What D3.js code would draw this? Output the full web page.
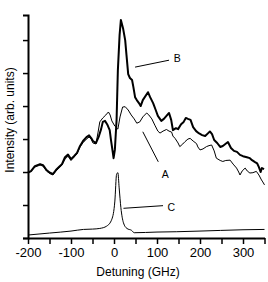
<!DOCTYPE html>
<html>
<head>
<meta charset="utf-8">
<script src="https://cdn.jsdelivr.net/npm/d3@7"></script>
<style>
  html, body { margin: 0; padding: 0; background: #fff; }
  svg { display: block; font-family: Arial, "Liberation Sans", sans-serif; }
</style>
</head>
<body>
<div class="grafic"></div>
<script>
// Detuning (GHz) / intensity

// curve B (thick)
const bX = [-200, -193, -184, -172, -165, -157, -149, -142, -135, -128, -121, -114, -107, -100, -93, -86, -79, -72, -64, -58,
  -53, -49, -42, -35, -30, -26, -21, -16, -10, -7, -3, -1, 2, 6, 9, 13, 16, 21, 26, 29,
  33, 37, 42, 45, 49, 53, 58, 62, 67, 79, 84, 91, 97, 102, 110, 116, 122, 128, 133, 137,
  144, 149, 156, 162, 167, 172, 178, 184, 191, 198, 205, 212, 219, 223, 228, 233, 240, 247, 253, 259,
  265, 272, 279, 286, 293, 300, 309, 316, 321, 328, 333, 337, 341, 344, 349];
const bY = [1.98, 2.03, 2.18, 2.24, 2.21, 2.06, 1.98, 1.94, 2.06, 2.15, 2.24, 2.45, 2.53, 2.39, 2.48, 2.58, 2.79, 2.94, 3.06, 3.11,
  3.03, 2.94, 2.88, 3.09, 3.30, 3.52, 3.55, 3.45, 3.27, 2.97, 2.61, 2.42, 2.67, 3.58, 5.09, 6.15, 6.61, 6.36, 6.00, 5.55,
  4.97, 4.85, 4.79, 4.58, 4.27, 4.18, 4.09, 4.00, 4.18, 4.42, 4.27, 4.09, 3.88, 3.70, 3.55, 3.61, 3.70, 3.79, 3.58, 3.27,
  3.33, 3.30, 3.45, 3.52, 3.64, 3.61, 3.58, 3.36, 3.24, 3.17, 3.12, 3.09, 3.18, 3.23, 3.15, 2.97, 2.88, 2.76, 2.79, 2.85,
  2.91, 2.73, 2.64, 2.61, 2.52, 2.48, 2.45, 2.42, 2.36, 2.30, 2.26, 2.15, 2.00, 2.12, 2.09];

// curve A (thin)
const aX = [-200, -193, -184, -172, -165, -157, -149, -142, -135, -128, -121, -114, -107, -100, -93, -86, -79, -72, -64, -58,
  -53, -49, -42, -37, -33, -26, -19, -13, -9, -5, 2, 9, 14, 20, 26, 33, 40, 47, 53, 60,
  67, 76, 81, 88, 95, 102, 107, 114, 122, 128, 134, 137, 142, 149, 153, 160, 165, 172, 177, 184,
  192, 195, 200, 207, 215, 221, 227, 233, 238, 247, 253, 260, 270, 277, 285, 290, 293, 298, 305, 310,
  316, 323, 331, 337, 343, 346, 350];
const aY = [1.97, 2.02, 2.15, 2.21, 2.18, 2.03, 1.95, 1.91, 2.03, 2.12, 2.21, 2.39, 2.48, 2.35, 2.45, 2.55, 2.76, 2.89, 3.00, 3.06,
  3.00, 2.88, 2.85, 3.21, 3.52, 3.64, 3.73, 3.82, 3.73, 3.55, 3.39, 3.30, 3.67, 3.97, 3.98, 3.88, 3.73, 3.61, 3.48, 3.52,
  3.67, 3.79, 3.73, 3.61, 3.42, 3.24, 3.18, 3.24, 3.29, 3.24, 3.21, 3.09, 3.02, 2.88, 2.77, 2.85, 2.92, 3.00, 3.02, 2.94,
  2.86, 2.76, 2.67, 2.70, 2.77, 2.80, 2.82, 2.64, 2.42, 2.35, 2.32, 2.35, 2.36, 2.24, 2.12, 2.00, 1.91, 2.03, 2.12, 2.03,
  1.97, 1.98, 2.02, 1.91, 1.76, 1.70, 1.61];

// curve C (reference line)
const cX = [-200, -150, -100, -71, -50, -33, -17, -5, 2, 6, 9, 12, 16, 22, 30, 41, 47, 100, 146, 200, 248, 300, 350];
const cY = [0.09, 0.15, 0.21, 0.26, 0.27, 0.29, 0.36, 0.57, 1.12, 1.93, 1.98, 1.52, 0.92, 0.46, 0.29, 0.23, 0.16, 0.18, 0.19, 0.21, 0.23, 0.25, 0.26];

const xTicks = [-200, -150, -100, -50, 0, 50, 100, 150, 200, 250, 300, 350];
const xTickLabels = ["-200", "", "-100", "", "0", "", "100", "", "200", "", "300", ""];
const yTicks = [0, 1, 2, 3, 4, 5, 6];

// labels with their leader lines: [x1, y1, x2, y2] and label point
const noteNames = ["A", "B", "C"];
const noteLines = [[67, 3.22, 103, 2.31], [49, 5.18, 128, 5.39], [22, 0.90, 114, 0.98]];
const notePos = [[119, 1.94], [147, 5.45], [133, 0.92]];

const w = 268, h = 282;

let svg = d3.select(".grafic")
    .append("svg")
    .attr("width", w)
    .attr("height", h);

let xScale = d3.scaleLinear()
    .domain([-200, 350])
    .range([28, 264.5]);

let yScale = d3.scaleLinear()
    .domain([0, 6.76])
    .range([238, 15]);

let xAxis = d3.axisBottom(xScale)
    .tickValues(xTicks)
    .tickFormat((d, i) => xTickLabels[i])
    .tickSize(6)
    .tickSizeOuter(0)
    .tickPadding(4);

let yAxis = d3.axisLeft(yScale)
    .tickValues(yTicks)
    .tickFormat("")
    .tickSize(5)
    .tickSizeOuter(5);

let gx = svg.append("g")
    .attr("transform", "translate(0,238)")
    .call(xAxis);

let gy = svg.append("g")
    .attr("transform", "translate(28,0)")
    .call(yAxis);

[gx, gy].forEach(g => {
    g.select(".domain").attr("stroke", "#000").attr("stroke-width", 2);
    g.selectAll(".tick line").attr("stroke", "#000").attr("stroke-width", 1.5);
});

gx.selectAll(".tick text")
    .attr("fill", "#000")
    .attr("font-size", "13px")
    .attr("font-family", "Arial, 'Liberation Sans', sans-serif");

svg.append("text")
    .attr("x", 138)
    .attr("y", 276)
    .attr("text-anchor", "middle")
    .attr("font-size", "12px")
    .text("Detuning (GHz)");

svg.append("text")
    .attr("transform", "translate(13.5,120) rotate(-90)")
    .attr("text-anchor", "middle")
    .attr("font-size", "12px")
    .text("Intensity (arb. units)");

let line = d3.line()
    .x(d => xScale(d[0]))
    .y(d => yScale(d[1]));

// C
svg.append("path")
    .datum(cX.map((x, i) => [x, cY[i]]))
    .attr("fill", "none")
    .attr("stroke", "#000")
    .attr("stroke-width", 1)
    .attr("d", line.curve(d3.curveMonotoneX));

line.curve(d3.curveLinear);

// A
svg.append("path")
    .datum(aX.map((x, i) => [x, aY[i]]))
    .attr("fill", "none")
    .attr("stroke", "#000")
    .attr("stroke-width", 1)
    .attr("stroke-linejoin", "round")
    .attr("d", line);

// B
svg.append("path")
    .datum(bX.map((x, i) => [x, bY[i]]))
    .attr("fill", "none")
    .attr("stroke", "#000")
    .attr("stroke-width", 2)
    .attr("stroke-linejoin", "round")
    .attr("d", line);

// leader lines and letters
noteNames.forEach((name, i) => {
    let l = noteLines[i];
    svg.append("line")
        .attr("x1", xScale(l[0]))
        .attr("y1", yScale(l[1]))
        .attr("x2", xScale(l[2]))
        .attr("y2", yScale(l[3]))
        .attr("stroke", "#000")
        .attr("stroke-width", 1);

    svg.append("text")
        .attr("x", xScale(notePos[i][0]))
        .attr("y", yScale(notePos[i][1]))
        .attr("dy", "0.35em")
        .attr("text-anchor", "middle")
        .attr("font-size", "10.5px")
        .text(name);
});
</script>
</body>
</html>
